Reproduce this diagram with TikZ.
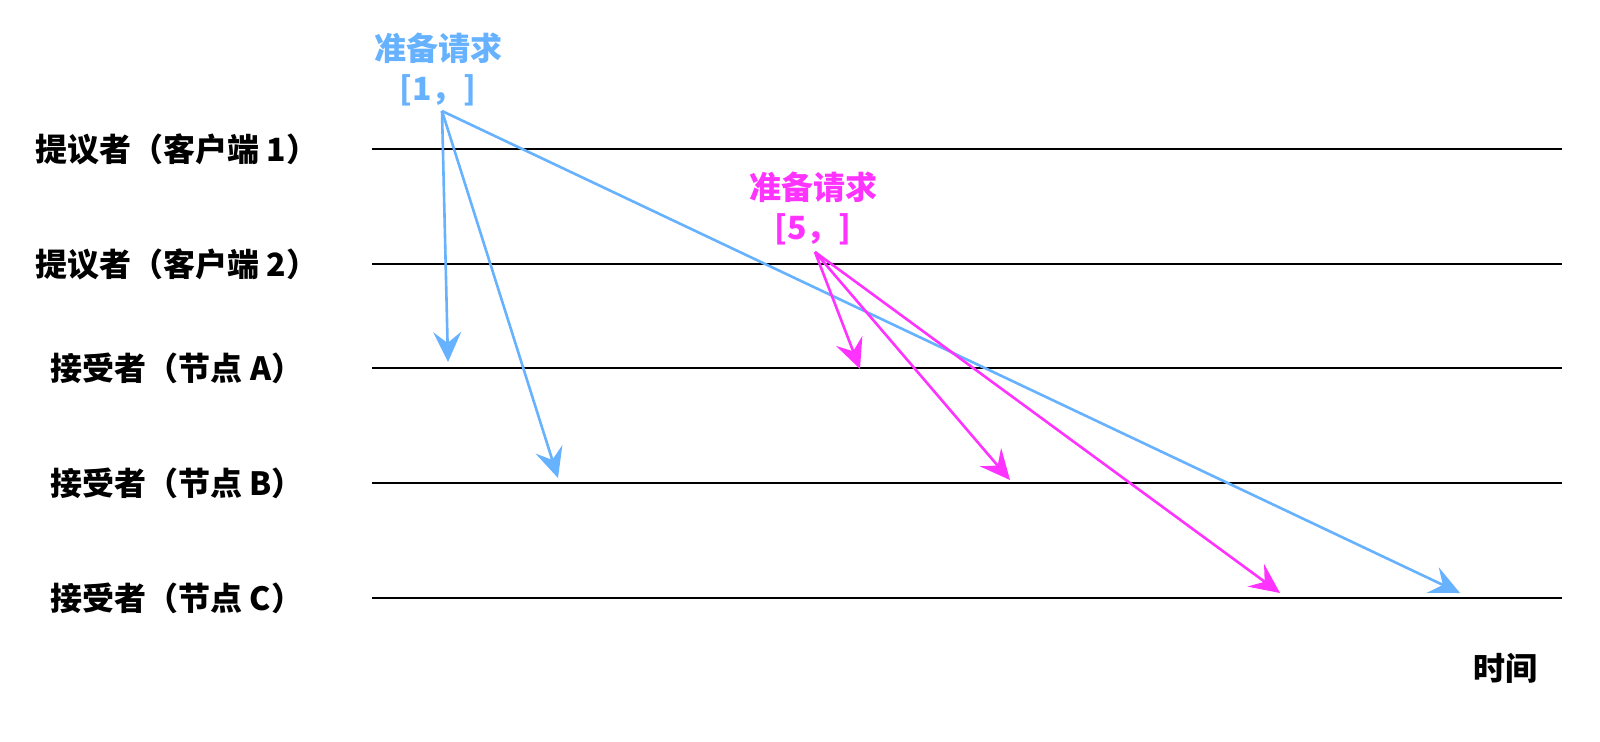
\documentclass[tikz,border=0pt]{standalone}
\usepackage{fontspec}
\setmainfont{Noto Sans CJK SC}
\usetikzlibrary{arrows.meta}
\definecolor{blu}{RGB}{102,178,255}
\definecolor{mag}{RGB}{255,51,255}
\tikzset{ who/.style  = { inner sep = 0pt
                        , font      = \fontsize{16}{18}\selectfont\bfseries
                        },
          req/.style  = { inner sep = 0pt
                        , align     = center
                        , text      = #1
                        , font      = \fontsize{16}{20}\selectfont\bfseries
                        },
          lane/.style = { line width = 1.4pt },
          msg/.style  = { draw = #1
                        , line width = 1.3pt
                        , -{Stealth[length=15pt, width=14pt, inset=5.5pt]}
                        }
        }
\begin{document}
\begin{tikzpicture}[x=0.5pt, y=-0.5pt]
  \path[use as bounding box, fill=white] (0,0) rectangle (1600,741);
  \foreach \n/\y/\t in {1/149/提议者（客户端 1）, 2/264/提议者（客户端 2）,
                        3/368/接受者（节点 A）, 4/483/接受者（节点 B）,
                        5/598/接受者（节点 C）} {
    \node[who] (w\n) at (177,\y) {\t};
    \coordinate (s\n) at (372,\y);
    \coordinate (e\n) at (1562,\y);
    \draw[lane] (s\n) -- (e\n);
  }
  \node[who] (time) at (1505,668) {时间};
  % proposer 1
  \node[req=blu] (q1) at (438,69) {准备请求\\{[1，]}};
  \coordinate (p1) at (442,111);
  \foreach \n/\x/\y in {a/448/362, b/558/478, c/1460/593} {
    \coordinate (p1\n) at (\x,\y);
    \draw[msg=blu] (p1) -- (p1\n);
  }
  % proposer 2
  \node[req=mag] (q2) at (813,208) {准备请求\\{[5，]}};
  \coordinate (p2) at (815,252);
  \foreach \n/\x/\y in {a/860/369, b/1010/480, c/1280/593} {
    \coordinate (p2\n) at (\x,\y);
    \draw[msg=mag] (p2) -- (p2\n);
  }
\end{tikzpicture}
\end{document}
